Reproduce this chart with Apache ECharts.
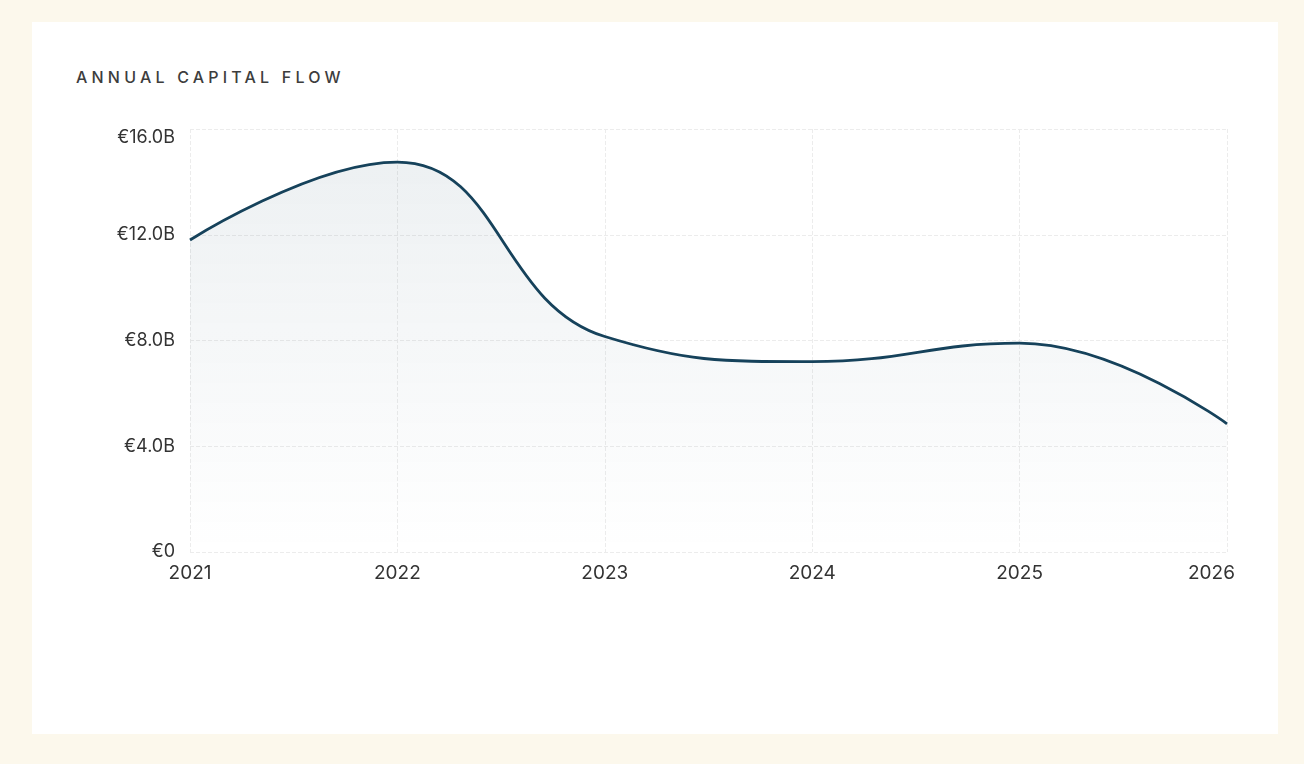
<!DOCTYPE html>
<html>
<head>
<meta charset="utf-8">
<script src="https://cdn.jsdelivr.net/npm/echarts@6/dist/echarts.min.js"></script>
<style>
    html, body { margin: 0; padding: 0; background: #fcf8ec; }
    #card { position: absolute; left: 32px; top: 22px; width: 1246px; height: 712px; background: #fff; }
    #title { position: absolute; left: 44px; top: 45px; font-family: Inter, sans-serif; font-size: 16px; font-weight: 500;
             letter-spacing: 4.2px; color: #3d3d3d; white-space: nowrap; }
    #main { position: absolute; left: 0; top: 0; width: 1304px; height: 764px; }
</style>
</head>
<body>
<div id="card"><div id="title">ANNUAL CAPITAL FLOW</div></div>
<div id="main"></div>
<script>
var years = ['2021', '2022', '2023', '2024', '2025', '2026'];
var flow = [11.8, 14.75, 8.15, 7.2, 7.9, 4.85];
var yTicks = [0, 4, 8, 12, 16];

function fmt(v) {
    return v === 0 ? '€0' : '€' + v.toFixed(1) + 'B';
}

var myChart = echarts.init(document.getElementById('main'));

var option = {
    animation: false,
    grid: { left: 190, right: 77, top: 129, bottom: 212 },
    xAxis: {
        type: 'category',
        data: years,
        boundaryGap: false,
        axisLine: { show: false },
        axisTick: { show: false },
        axisLabel: {
            color: '#333', fontFamily: 'Inter', fontSize: 19, margin: 12,
            formatter: function (v, i) {
                // last label sits a bit left of its grid line
                return i === years.length - 1 ? '{last|' + v + '}' : v;
            },
            rich: {
                last: { color: '#333', fontFamily: 'Inter', fontSize: 19, padding: [0, 31, 0, 0] }
            }
        },
        splitLine: { show: true, lineStyle: { color: '#ececec', type: 'dashed' } }
    },
    yAxis: {
        type: 'value',
        min: yTicks[0],
        max: yTicks[yTicks.length - 1],
        interval: 4,
        axisLine: { show: false },
        axisTick: { show: false },
        axisLabel: {
            color: '#333', fontFamily: 'Inter', fontSize: 18, margin: 15, formatter: fmt,
            verticalAlignMaxLabel: 'top'
        },
        splitLine: { lineStyle: { color: '#ececec', type: 'dashed' } }
    },
    series: [{
        type: 'line',
        data: flow,
        smooth: 0.45,
        showSymbol: false,
        lineStyle: { color: '#16425b', width: 2.8 },
        areaStyle: {
            color: new echarts.graphic.LinearGradient(0, 0, 0, 1, [
                { offset: 0, color: 'rgba(22,66,91,0.11)' },
                { offset: 1, color: 'rgba(22,66,91,0.0)' }
            ])
        }
    }]
};

myChart.setOption(option);
</script>
</body>
</html>
